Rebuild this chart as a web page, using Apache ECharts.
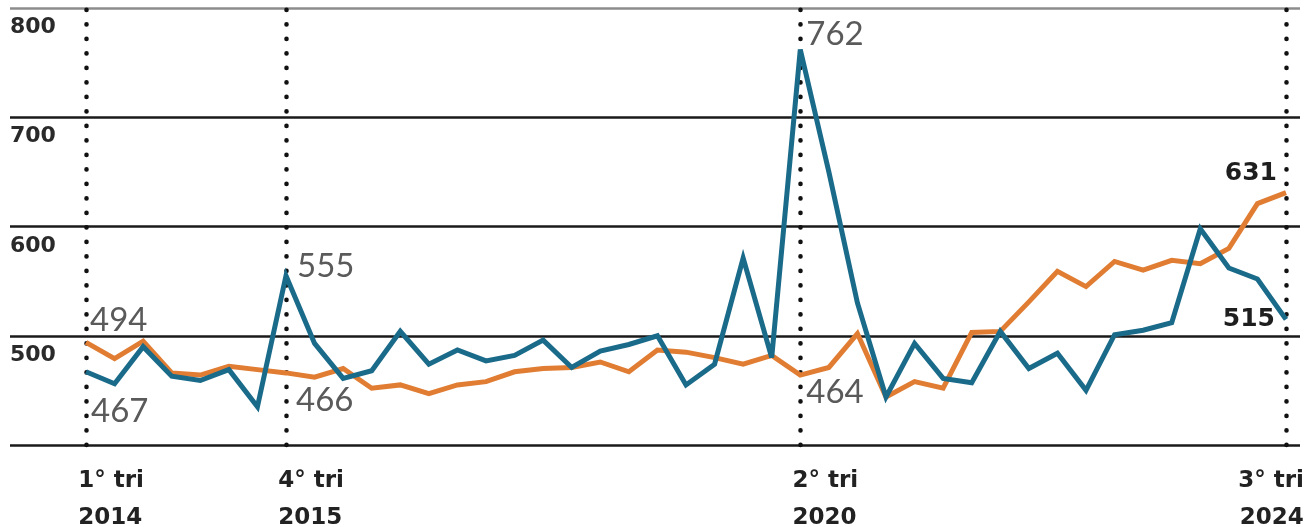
<!DOCTYPE html>
<html><head><meta charset="utf-8">
<script src="https://cdn.jsdelivr.net/npm/echarts@6/dist/echarts.min.js"></script>
<style>html,body{margin:0;padding:0;background:#fff}#c{width:1309px;height:527px}</style>
</head><body><div id="c"></div>
<script>
// ---- data ----
const quarters = [
  '1° tri 2014','2° tri 2014','3° tri 2014','4° tri 2014',
  '1° tri 2015','2° tri 2015','3° tri 2015','4° tri 2015',
  '1° tri 2016','2° tri 2016','3° tri 2016','4° tri 2016',
  '1° tri 2017','2° tri 2017','3° tri 2017','4° tri 2017',
  '1° tri 2018','2° tri 2018','3° tri 2018','4° tri 2018',
  '1° tri 2019','2° tri 2019','3° tri 2019','4° tri 2019',
  '1° tri 2020','2° tri 2020','3° tri 2020','4° tri 2020',
  '1° tri 2021','2° tri 2021','3° tri 2021','4° tri 2021',
  '1° tri 2022','2° tri 2022','3° tri 2022','4° tri 2022',
  '1° tri 2023','2° tri 2023','3° tri 2023','4° tri 2023',
  '1° tri 2024','2° tri 2024','3° tri 2024'
];
const tickIndex = [0, 7, 25, 42];
const tickLabels = [['1° tri','2014'], ['4° tri','2015'], ['2° tri','2020'], ['3° tri','2024']];
const yTicks = [400, 500, 600, 700, 800];
const blue = [467,456,490,463,459,469,435,555,493,461,468,504,474,487,477,482,496,471,486,492,
              500,455,474,571,480,762,650,530,444,493,461,457,504,470,484,450,501,505,512,598,
              562,552,515];
const orange = [494,479,495,466,464,472,469,466,462,470,452,455,447,455,458,467,470,471,476,467,
                487,485,480,474,482,464,471,502,444,458,452,503,504,531,559,545,568,560,569,566,
                580,621,631];
const labelIdx = [0, 7, 25, 42];

// ---- styles ----
const BLUE = '#1a6a8a', ORANGE = '#e07d33';
const AXIS_FONT = '"DejaVu Sans", sans-serif';
const orangeLab = {
  0:  {position:'right', distance:4, offset:[0,-22]},
  7:  {position:'right', distance:10, offset:[0,27]},
  25: {position:'right', distance:6, offset:[0,17]},
  42: {position:'left',  distance:9, offset:[0,-19], bold:true}
};
const blueLab = {
  0:  {position:'right', distance:5, offset:[0,40]},
  7:  {position:'right', distance:11, offset:[0,-9]},
  25: {position:'right', distance:6, offset:[0,-15]},
  42: {position:'left',  distance:11, offset:[0,0], bold:true}
};
function mkData(vals, labs) {
  return vals.map((v, i) => {
    const item = {name: quarters[i], value: [i, v]};
    if (labelIdx.includes(i) && labs[i]) {
      const L = labs[i];
      item.label = {
        show: true, position: L.position, distance: L.distance, offset: L.offset,
        formatter: p => String(p.value[1]),
        fontFamily: L.bold ? AXIS_FONT : 'Lato', fontSize: L.bold ? 25 : 33,
        fontWeight: L.bold ? 'bold' : 'normal',
        color: L.bold ? '#1e1e1e' : '#5a5a5a'
      };
    }
    return item;
  });
}
const pxPerQ = 28.57;
const chart = echarts.init(document.getElementById('c'), null, {renderer: 'canvas'});
chart.setOption({
  animation: false,
  backgroundColor: '#ffffff',
  grid: {left: 10, right: 9, top: 8, bottom: 82, outerBoundsMode: 'none', containLabel: false},
  xAxis: {
    type: 'value', min: -76 / pxPerQ, max: 42 + 14 / pxPerQ,
    axisLine: {show: false}, axisTick: {show: false, customValues: tickIndex},
    splitLine: {show: false},
    axisLabel: {
      customValues: tickIndex, align: 'center', margin: 18,
      formatter: v => {
        const k = tickIndex.indexOf(Math.round(v));
        if (k < 0) return '';
        const t = tickLabels[k];
        const s = k === tickIndex.length - 1 ? 'r' : 'l';
        return '{' + s + '|' + t[0] + '}\n{' + s + '|' + t[1] + '}';
      },
      rich: {
        l: {align: 'left', padding: [0,0,0,50], fontFamily: AXIS_FONT, fontWeight: 'bold', fontSize: 23, lineHeight: 37, color: '#222'},
        r: {align: 'right', padding: [0,30,0,0], fontFamily: AXIS_FONT, fontWeight: 'bold', fontSize: 23, lineHeight: 37, color: '#222'}
      }
    }
  },
  yAxis: {
    type: 'value', min: 400, max: 800, interval: 100,
    axisLine: {show: false}, axisTick: {show: false},
    axisLabel: {
      inside: true, margin: 0, align: 'left', verticalAlign: 'top', lineHeight: 39,
      fontFamily: AXIS_FONT, fontWeight: 'bold', fontSize: 22, color: '#2a2a2a',
      formatter: v => (v === yTicks[0] ? '' : String(v))
    },
    splitLine: {show: true, lineStyle: {color: ['#1a1a1a','#1a1a1a','#1a1a1a','#1a1a1a','#8c8c8c'], width: 2.5}}
  },
  series: [
    {
      name: 'orange', type: 'line', data: mkData(orange, orangeLab),
      symbol: 'circle', symbolSize: 0, showSymbol: true, clip: false, z: 3,
      lineStyle: {color: ORANGE, width: 5, join: 'miter', miterLimit: 4},
      itemStyle: {color: ORANGE},
      markLine: {
        silent: true, symbol: ['none','none'], z: 1,
        label: {show: false},
        lineStyle: {color: '#111', width: 4.6, type: [0.1, 14.4], cap: 'round'},
        data: tickIndex.map(i => ({xAxis: i}))
      }
    },
    {
      name: 'blue', type: 'line', data: mkData(blue, blueLab),
      symbol: 'circle', symbolSize: 0, showSymbol: true, clip: false, z: 4,
      lineStyle: {color: BLUE, width: 5, join: 'miter', miterLimit: 4},
      itemStyle: {color: BLUE}
    }
  ]
});
</script></body></html>
